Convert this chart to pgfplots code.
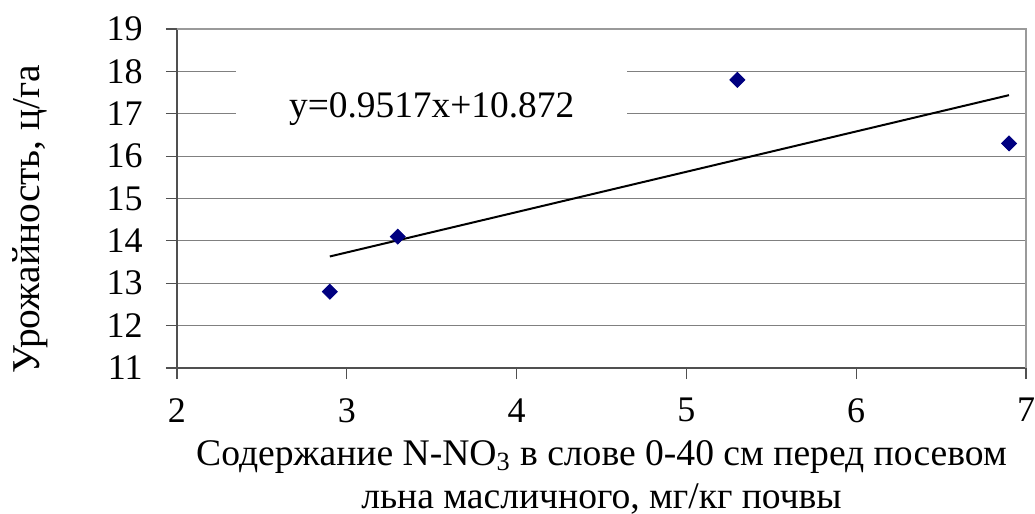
\documentclass[border=0pt]{standalone}
\usepackage{fontspec}
\setmainfont{Liberation Serif}
\usepackage{pgfplots}
\pgfplotsset{compat=1.18}
\definecolor{gridgray}{HTML}{808080}
\definecolor{bordergray}{HTML}{9A9A9A}
\definecolor{axisgray}{HTML}{505050}
\definecolor{navyblue}{HTML}{000080}
\begin{document}
\begin{tikzpicture}
\useasboundingbox (-88.5pt,-73pt) rectangle (429pt,184pt);
\begin{axis}[
  scale only axis, width=424.5pt, height=169.5pt,
  xmin=2, xmax=7, ymin=11, ymax=19,
  xtick={2,3,4,5,6,7}, ytick={11,12,13,14,15,16,17,18,19},
  axis lines=left, axis line style={-, draw=axisgray, line width=1pt},
  tick align=outside, major tick length=5.5pt,
  tick style={axisgray, line width=0.6pt},
  ymajorgrids, grid style={gridgray, line width=0.6pt},
  /pgf/number format/assume math mode=true,
  ticklabel style={font=\fontsize{18}{18}\selectfont},
  xticklabel style={anchor=north, inner sep=0pt, yshift=-9.5pt},
  yticklabel style={anchor=east, inner sep=0pt, xshift=-11.5pt},
  xlabel={Содержание N-NO\textsubscript{3} в слове 0-40 см перед посевом\\льна масличного, мг/кг почвы},
  xlabel style={at={(axis description cs:0.5,0)}, anchor=base, yshift=-70pt, align=center,
    font=\fontsize{18.8}{21.5}\selectfont},
  ylabel={Урожайность, ц/га},
  ylabel style={at={(axis description cs:-0.1614,0.4395)}, anchor=base,
    font=\fontsize{19.7}{19.7}\selectfont},
  clip=false,
]
\draw[bordergray, line width=1pt] (rel axis cs:0,1) -- (rel axis cs:1,1) -- (rel axis cs:1,0);
\addplot[only marks, mark=square*, mark size=2.65pt, color=navyblue, mark options={rotate=45}]
  coordinates {(2.9,12.8) (3.3,14.1) (5.3,17.8) (6.9,16.3)};
\addplot[black, line width=1pt] coordinates {(2.9,13.632) (6.9,17.439)};
\node[fill=white, inner xsep=26.5pt, inner ysep=12pt, anchor=base,
  font=\fontsize{18.7}{18.7}\selectfont] at (axis cs:3.5,16.92) {y=0.9517x+10.872};
\end{axis}
\end{tikzpicture}
\end{document}
